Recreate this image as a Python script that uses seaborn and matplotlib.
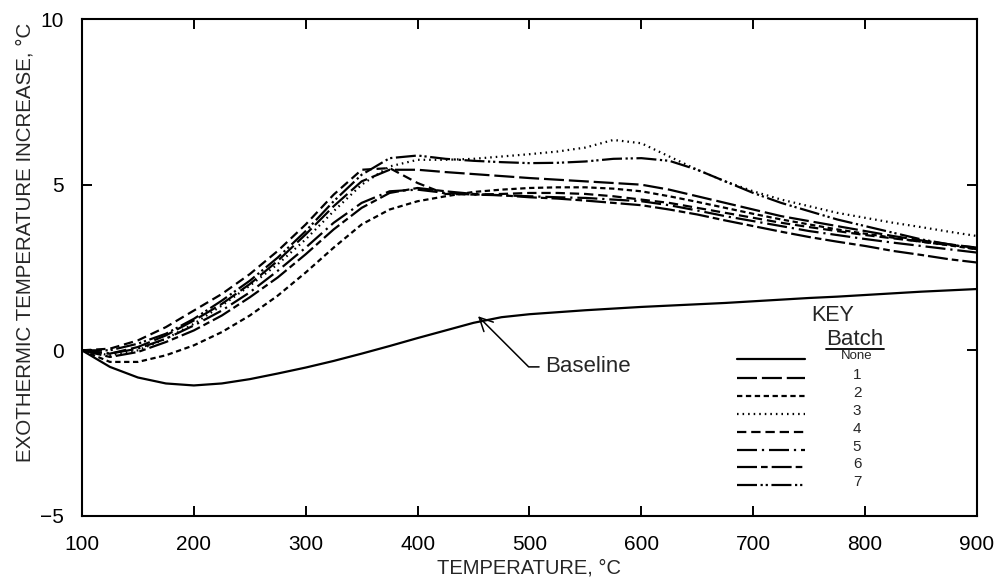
import numpy as np
import pandas as pd
import matplotlib
matplotlib.use("Agg")
import matplotlib.pyplot as plt
from matplotlib.lines import Line2D
import seaborn as sns

# ---------------- data ----------------
temperature = [100, 125, 150, 175, 200, 225, 250, 275, 300, 325, 350, 375, 400,
               425, 450, 475, 500, 525, 550, 575, 600, 625, 650, 675, 700, 725,
               750, 775, 800, 825, 850, 875, 900]

baseline = [0.0, -0.5, -0.82, -1.0, -1.06, -1.0, -0.87, -0.7, -0.52, -0.32, -0.1,
            0.13, 0.37, 0.6, 0.83, 1.0, 1.09, 1.15, 1.21, 1.26, 1.31, 1.35, 1.39,
            1.43, 1.48, 1.53, 1.58, 1.62, 1.67, 1.72, 1.77, 1.81, 1.85]
batch1 = [0.0, -0.1, 0.1, 0.45, 0.9, 1.4, 2.0, 2.7, 3.5, 4.35, 5.1, 5.45, 5.45,
          5.38, 5.32, 5.26, 5.2, 5.15, 5.1, 5.05, 5.0, 4.85, 4.65, 4.45, 4.25,
          4.05, 3.9, 3.75, 3.6, 3.45, 3.32, 3.2, 3.1]
batch2 = [0.0, -0.35, -0.35, -0.15, 0.15, 0.55, 1.05, 1.65, 2.35, 3.1, 3.8, 4.25,
          4.5, 4.65, 4.78, 4.85, 4.9, 4.92, 4.92, 4.88, 4.8, 4.65, 4.48, 4.3, 4.12,
          3.95, 3.8, 3.65, 3.52, 3.4, 3.28, 3.17, 3.05]
batch3 = [0.0, -0.15, 0.0, 0.35, 0.8, 1.35, 1.95, 2.6, 3.35, 4.2, 5.0, 5.55, 5.75,
          5.75, 5.78, 5.85, 5.92, 6.0, 6.12, 6.35, 6.25, 5.85, 5.45, 5.1, 4.8,
          4.55, 4.35, 4.15, 4.0, 3.85, 3.72, 3.58, 3.45]
batch4 = [0.0, 0.05, 0.3, 0.7, 1.2, 1.7, 2.3, 3.0, 3.8, 4.7, 5.45, 5.5, 5.05, 4.72,
          4.7, 4.72, 4.75, 4.75, 4.72, 4.65, 4.55, 4.45, 4.3, 4.15, 4.0, 3.85,
          3.72, 3.6, 3.48, 3.38, 3.28, 3.18, 3.1]
batch5 = [0.0, -0.1, 0.05, 0.35, 0.75, 1.2, 1.75, 2.4, 3.1, 3.85, 4.45, 4.8, 4.85,
          4.75, 4.7, 4.68, 4.65, 4.62, 4.6, 4.55, 4.5, 4.38, 4.22, 4.05, 3.9,
          3.75, 3.6, 3.48, 3.36, 3.25, 3.15, 3.05, 2.95]
batch6 = [0.0, -0.2, -0.05, 0.25, 0.6, 1.05, 1.6, 2.2, 2.9, 3.65, 4.3, 4.75, 4.9,
          4.8, 4.72, 4.68, 4.62, 4.58, 4.52, 4.45, 4.38, 4.25, 4.1, 3.92, 3.75,
          3.58, 3.42, 3.28, 3.15, 3.0, 2.88, 2.75, 2.65]
batch7 = [0.0, 0.0, 0.2, 0.5, 0.95, 1.5, 2.1, 2.8, 3.6, 4.5, 5.3, 5.8, 5.88, 5.78,
          5.72, 5.68, 5.65, 5.66, 5.7, 5.78, 5.8, 5.72, 5.45, 5.1, 4.75, 4.45,
          4.2, 3.95, 3.75, 3.55, 3.35, 3.2, 3.05]

batch_names = ["None", "1", "2", "3", "4", "5", "6", "7"]
series = [baseline, batch1, batch2, batch3, batch4, batch5, batch6, batch7]

x_ticks = [100, 200, 300, 400, 500, 600, 700, 800, 900]
y_ticks = [-5, 0, 5, 10]
y_tick_labels = ["\u22125", "0", "5", "10"]

# ---------------- styles ----------------
LW = 1.6
dash_styles = {
    "None": "",
    "1": (9, 2.2),
    "2": (2.4, 1.6),
    "3": (0.7, 1.8),
    "4": (4.2, 2.2),
    "5": (9, 2.2, 1, 2.2),
    "6": (9, 1.8, 3, 1.8),
    "7": (9, 1.6, 1, 1.3, 1, 1.6),
}

df = pd.concat(
    [pd.DataFrame({"T": temperature, "dT": s, "Batch": name})
     for name, s in zip(batch_names, series)],
    ignore_index=True,
)

sns.set_style("ticks")
plt.rcParams["font.family"] = ["Liberation Sans", "DejaVu Sans"]

fig = plt.figure(figsize=(9.97, 5.78), dpi=100)
ax = fig.add_axes([0.0822, 0.1073, 0.8977, 0.8598])

sns.lineplot(data=df, x="T", y="dT", style="Batch", style_order=batch_names,
             dashes=dash_styles, color="black", linewidth=LW, legend=False,
             sort=False, estimator=None, ax=ax)

ax.set_xlim(100, 900)
ax.set_ylim(-5, 10)
ax.set_xticks(x_ticks)
ax.set_yticks(y_ticks)
ax.set_yticklabels(y_tick_labels)
ax.tick_params(direction="in", length=7, width=1.4, top=True, right=True,
               labelsize=15, colors="black")
ax.tick_params(axis="x", pad=13.5)
ax.tick_params(axis="y", pad=13)
for sp in ax.spines.values():
    sp.set_visible(True)
    sp.set_linewidth(1.5)
    sp.set_color("black")

ax.set_xlabel("TEMPERATURE, \u00b0C", fontsize=14.5)
ax.set_ylabel("EXOTHERMIC TEMPERATURE INCREASE, \u00b0C", fontsize=14.8)
ax.xaxis.set_label_coords(0.5, -0.0855)
ax.xaxis.label.set_va("top")
ax.yaxis.set_label_coords(-0.0637, 0.551)
ax.yaxis.label.set_va("center")

# Baseline annotation
ax.annotate("Baseline", xy=(454, 1.03), xytext=(514, -0.5),
            fontsize=16, ha="left", va="center",
            arrowprops=dict(arrowstyle="->,head_length=0.6,head_width=0.3",
                            color="black", lw=1.1, shrinkA=2, shrinkB=0,
                            relpos=(0, 0.5),
                            connectionstyle="angle,angleA=180,angleB=-45,rad=0"))

# KEY
tr = ax.transAxes
ax.text(0.839, 0.404, "KEY", transform=tr, fontsize=15.5, ha="center", va="center")
ax.text(0.864, 0.356, "Batch", transform=tr, fontsize=16, ha="center", va="center")
ax.add_line(Line2D([0.831, 0.896], [0.336, 0.336], transform=tr, color="black", lw=1.3))
key_y = [0.316, 0.278, 0.241, 0.205, 0.169, 0.133, 0.099, 0.062]
for name, yy in zip(batch_names, key_y):
    d = dash_styles[name]
    ln = Line2D([0.732, 0.808], [yy, yy], transform=tr, color="black", lw=LW)
    if d != "":
        ln.set_dashes(d)
    ax.add_line(ln)
    ax.text(0.866, yy + 0.006, name, transform=tr, ha="center", va="center",
            fontsize=9.5 if name == "None" else 11)

fig.savefig("out.png", dpi=100)
